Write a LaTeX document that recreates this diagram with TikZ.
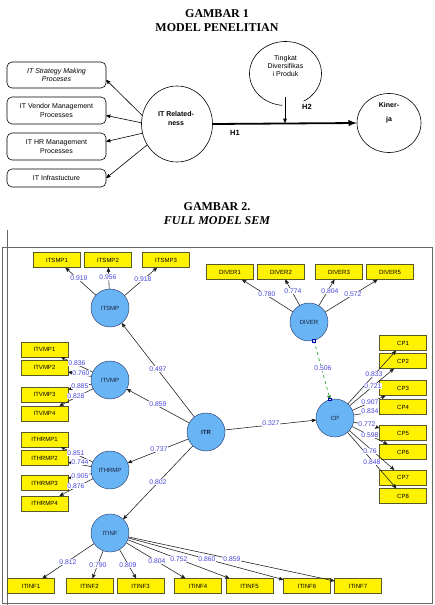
\documentclass[tikz,border=0pt]{standalone}
\usepackage{fontspec}
\setmainfont{Liberation Serif}
\setsansfont{Liberation Sans}
\usetikzlibrary{arrows,positioning,shapes.geometric}

\definecolor{latblue}{RGB}{105,180,245}
\definecolor{latedge}{RGB}{40,60,110}
\definecolor{coefblue}{RGB}{70,70,220}
\definecolor{boxedge}{RGB}{90,90,40}
\definecolor{pathgreen}{RGB}{30,150,30}

\tikzset{
  ttl/.style={font=\fontsize{12}{13}\selectfont\bfseries},
  procbox/.style={draw, rounded corners=5pt, minimum width=99pt, inner sep=0pt,
    align=center, font=\sffamily\fontsize{7}{8.3}\selectfont},
  smalltxt/.style={align=center, inner sep=0pt, font=\sffamily\fontsize{7}{8.3}\selectfont},
  ind/.style={draw=boxedge, fill=yellow, minimum width=47pt, minimum height=15pt,
    inner sep=0pt, line width=0.45pt, font=\sffamily\fontsize{6}{7}\selectfont},
  lat/.style={circle, draw=latedge, fill=latblue, minimum size=38pt, inner sep=0pt,
    line width=0.45pt, text=latedge!50!black, font=\sffamily\fontsize{6}{7}\selectfont},
  coef/.style={fill=white, text=coefblue, inner sep=0.3pt,
    font=\sffamily\fontsize{6.8}{7}\selectfont},
  sqmark/.style={draw=blue!70!black, fill=cyan!25, minimum size=2.5pt, inner sep=0pt},
}

\begin{document}
\begin{tikzpicture}[x=1pt, y=-1pt, >=stealth', line width=0.6pt]
  \useasboundingbox (0,0) rectangle (434,605);

  % gambar 1
  \node[ttl] (g1a) at (217,14) {GAMBAR 1};
  \node[ttl] (g1b) at (217,28) {MODEL PENELITIAN};

  \node[procbox, minimum height=26pt, font=\sffamily\itshape\fontsize{7}{8.3}\selectfont]
                 (itsm) at (56.5,75)    {IT Strategy Making\\Proceses};
  \node[procbox, minimum height=27pt] (itvm) at (56.5,110.5) {IT Vendor Management\\Processes};
  \node[procbox, minimum height=27pt] (ithr) at (56.5,146.5) {IT HR Management\\Processes};
  \node[procbox, minimum height=18pt] (itin) at (56.5,178)   {IT Infrastucture};

  \node[ellipse, draw, minimum width=71pt, minimum height=76pt] (itrel) at (177,124) {};
  \node[smalltxt, font=\sffamily\bfseries\fontsize{7}{8.5}\selectfont] (itreltxt) at (176,118.5) {IT Related-\\ness};

  \node[ellipse, draw, minimum width=64pt, minimum height=59pt] (kin) at (389,123) {};
  \node[smalltxt, font=\sffamily\bfseries\fontsize{7}{14}\selectfont] (kintxt) at (389,113) {Kiner-\\ja};

  % open circle of the moderator
  \coordinate (tdc) at (285.5,73.5);
  \draw ([shift={(-60:36pt and 32pt)}]tdc) arc[start angle=-60, end angle=265, x radius=36pt, y radius=32pt];
  \node[smalltxt] (tdtxt) at (285.5,66) {Tingkat\\Diversifikas\\i Produk};

  \path[->]
    (itrel.166) edge ([yshift=-5pt]itsm.east)
    (itrel.178) edge ([yshift=-5pt]itvm.east)
    (itrel.195) edge ([yshift=5pt]ithr.east)
    (itrel.215) edge (itin.east);

  \draw[-latex, line width=1.8pt] (itrel.east) -- (kin.west);
  \coordinate (h2top) at (285,97);
  \coordinate (h2end) at (285,124);
  \draw[-latex, line width=0.9pt] (h2top) -- (h2end);
  \node[font=\sffamily\bfseries\fontsize{7.5}{8}\selectfont] (h1) at (235,133) {H1};
  \node[font=\sffamily\bfseries\fontsize{7.5}{8}\selectfont] (h2) at (307,107) {H2};

  % gambar 2
  \node[ttl] (g2a) at (217,207) {GAMBAR 2.};
  \node[ttl, font=\fontsize{12}{13}\selectfont\bfseries\itshape] (g2b) at (217,221) {FULL MODEL SEM};

  \draw[black!60] (2,247) rectangle (432,603);
  \draw[black!60] (7,230) -- (7,605);

  % indicators
  \node[ind] (itsmp1) at (57,260)  {ITSMP1};
  \node[ind] (itsmp2) at (108,260) {ITSMP2};
  \node[ind] (itsmp3) at (166,260) {ITSMP3};

  \node[ind] (diver1) at (230,272) {DIVER1};
  \node[ind] (diver2) at (281,272) {DIVER2};
  \node[ind] (diver3) at (339,272) {DIVER3};
  \node[ind] (diver5) at (390,272) {DIVER5};

  \node[ind] (itvmp1) at (44.5,349.5) {ITVMP1};
  \node[ind] (itvmp2) at (44.5,367.5) {ITVMP2};
  \node[ind] (itvmp3) at (44.5,394.5) {ITVMP3};
  \node[ind] (itvmp4) at (44.5,413.5) {ITVMP4};

  \node[ind] (ithrmp1) at (44.5,439.5) {ITHRMP1};
  \node[ind] (ithrmp2) at (44.5,458)   {ITHRMP2};
  \node[ind] (ithrmp3) at (44.5,483)   {ITHRMP3};
  \node[ind] (ithrmp4) at (44.5,503.5) {ITHRMP4};

  \node[ind] (cp1) at (403,343)   {CP1};
  \node[ind] (cp2) at (403,361)   {CP2};
  \node[ind] (cp3) at (403,388)   {CP3};
  \node[ind] (cp4) at (403,407)   {CP4};
  \node[ind] (cp5) at (403,433)   {CP5};
  \node[ind] (cp6) at (403,452)   {CP6};
  \node[ind] (cp7) at (403,477.5) {CP7};
  \node[ind] (cp8) at (403,496)   {CP8};

  \node[ind] (itinf1) at (31,586)    {ITINF1};
  \node[ind] (itinf2) at (89.5,586)  {ITINF2};
  \node[ind] (itinf3) at (140.5,586) {ITINF3};
  \node[ind] (itinf4) at (198,586)   {ITINF4};
  \node[ind] (itinf5) at (249.5,586) {ITINF5};
  \node[ind] (itinf6) at (307,586)   {ITINF6};
  \node[ind] (itinf7) at (358,586)   {ITINF7};

  % latent variables
  \node[lat] (itsmp)  at (110,308) {ITSMP};
  \node[lat] (diver)  at (309,322) {DIVER};
  \node[lat] (itvmp)  at (110,380) {ITVMP};
  \node[lat] (itr)    at (206,432) {\bfseries ITR};
  \node[lat] (cp)     at (335,418) {CP};
  \node[lat] (ithrmp) at (110,470) {ITHRMP};
  \node[lat] (itinf)  at (110,533) {ITINF};

  \path[->, draw=black!85]
    (itsmp) edge (itsmp1)
            edge (itsmp2)
            edge (itsmp3)
    (diver) edge (diver1)
            edge (diver2)
            edge (diver3)
            edge (diver5)
    (itvmp) edge (itvmp1)
            edge (itvmp2)
            edge (itvmp3)
            edge (itvmp4)
    (ithrmp) edge (ithrmp1)
             edge (ithrmp2)
             edge (ithrmp3)
             edge (ithrmp4)
    (cp)    edge (cp1)
            edge (cp2)
            edge (cp3)
            edge (cp4)
            edge (cp5)
            edge (cp6)
            edge (cp7)
            edge (cp8)
    (itinf) edge (itinf1)
            edge (itinf2)
            edge (itinf3)
            edge (itinf4)
            edge (itinf5)
            edge (itinf6)
            edge (itinf7)
    (itr)   edge (itsmp)
            edge (itvmp)
            edge (ithrmp)
            edge (itinf)
            edge (cp);

  \path[->, draw=pathgreen, dashed]
    (diver) edge node[sqmark, pos=0, solid] (sqa) {} node[sqmark, pos=1, solid] (sqb) {} (cp);

  % path coefficients and loadings
  \node[coef] (l1) at (79,278)  {0.919};
  \node[coef] (l2) at (108,277) {0.956};
  \node[coef] (l3) at (143,279) {0.918};

  \node[coef] (d1) at (267,294) {0.780};
  \node[coef] (d2) at (293,291) {0.774};
  \node[coef] (d3) at (330,291) {0.804};
  \node[coef] (d5) at (353,294) {0.572};

  \node[coef] (p1) at (323,368) {0.506};
  \node[coef] (p2) at (158,369) {0.497};
  \node[coef] (p3) at (158,404) {0.859};
  \node[coef] (p4) at (159,449) {0.737};
  \node[coef] (p5) at (158,482) {0.802};
  \node[coef] (p6) at (271,423) {0.327};

  \node[coef] (v1) at (77,363) {0.836};
  \node[coef] (v2) at (81,373) {0.760};
  \node[coef] (v3) at (80,386) {0.885};
  \node[coef] (v4) at (76,396) {0.828};

  \node[coef] (h1c) at (76,453) {0.851};
  \node[coef] (h2c) at (80,462) {0.744};
  \node[coef] (h3c) at (80,476) {0.905};
  \node[coef] (h4c) at (76,486) {0.876};

  \node[coef] (c1) at (374,374) {0.833};
  \node[coef] (c2) at (373,386) {0.721};
  \node[coef] (c3) at (370,402) {0.907};
  \node[coef] (c4) at (370,411) {0.834};
  \node[coef] (c5) at (367,424) {0.772};
  \node[coef] (c6) at (370,435) {0.598};
  \node[coef] (c7) at (370,451) {0.76};
  \node[coef] (c8) at (372,462) {0.848};

  \node[coef] (f1) at (68,562)  {0.812};
  \node[coef] (f2) at (98,565)  {0.790};
  \node[coef] (f3) at (128,565) {0.809};
  \node[coef] (f4) at (157,561) {0.804};
  \node[coef] (f5) at (179,559) {0.752};
  \node[coef] (f6) at (207,559) {0.860};
  \node[coef] (f7) at (232,559) {0.859};
\end{tikzpicture}
\end{document}
